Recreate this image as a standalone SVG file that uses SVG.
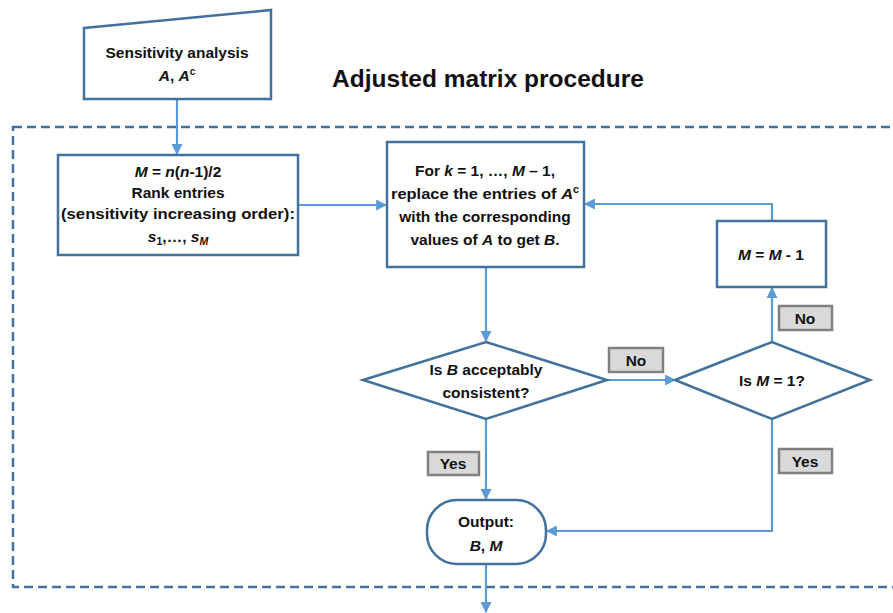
<svg xmlns="http://www.w3.org/2000/svg" width="893" height="613" viewBox="0 0 893 613">
<style>
.n{fill:#fff;stroke:#41719C;stroke-width:2.5}
.c{fill:none;stroke:#5B9BD5;stroke-width:2.2}
.t{font-family:"Liberation Sans",Arial,sans-serif;font-weight:bold;font-size:15.5px;fill:#111;text-anchor:middle}
.lb{fill:#D9D9D9;stroke:#808080;stroke-width:2.5}
.i{font-style:italic}
</style>
<defs>
<marker id="a" viewBox="0 0 10 10" refX="9" refY="5" markerWidth="5" markerHeight="5" orient="auto" markerUnits="strokeWidth">
<path d="M0,0L10,5L0,10z" fill="#5B9BD5"/>
</marker>
</defs>
<rect x="0" y="0" width="893" height="613" fill="#fff"/>
<rect x="13" y="127" width="900" height="460" fill="none" stroke="#41719C" stroke-width="2.5" stroke-dasharray="9,5"/>
<text x="488" y="87" class="t" style="font-size:24.5px">Adjusted matrix procedure</text>

<g id="connectors">
<path class="c" d="M177,99V154" marker-end="url(#a)"/>
<path class="c" d="M298,205H386" marker-end="url(#a)"/>
<path class="c" d="M772,221V204H585" marker-end="url(#a)"/>
<path class="c" d="M486,267V341" marker-end="url(#a)"/>
<path class="c" d="M607,380H675" marker-end="url(#a)"/>
<path class="c" d="M772,342V288" marker-end="url(#a)"/>
<path class="c" d="M486,419V499" marker-end="url(#a)"/>
<path class="c" d="M772,419V531H547" marker-end="url(#a)"/>
<path class="c" d="M486,564V612" marker-end="url(#a)"/>
</g>

<g id="start">
<path class="n" d="M84,28L271,10V99H84z"/>
<text class="t" x="177" y="58">Sensitivity analysis</text>
<text class="t" x="177" y="81"><tspan class="i">A</tspan>, <tspan class="i">A</tspan><tspan style="font-size:10px" dy="-6">c</tspan></text>
</g>

<g id="rank">
<rect class="n" x="58" y="155" width="240" height="100"/>
<text class="t" x="178" y="177"><tspan class="i">M</tspan> = <tspan class="i">n</tspan>(<tspan class="i">n</tspan>-1)/2</text>
<text class="t" x="178" y="198">Rank entries</text>
<text class="t" x="178" y="219" textLength="234" lengthAdjust="spacingAndGlyphs">(sensitivity increasing order):</text>
<text class="t" x="178" y="242"><tspan class="i">s</tspan><tspan style="font-size:10.5px" dy="3">1</tspan><tspan dy="-3">,…, </tspan><tspan class="i">s</tspan><tspan class="i" style="font-size:10.5px" dy="3">M</tspan></text>
</g>

<g id="replace">
<rect class="n" x="387" y="142" width="197" height="125"/>
<text class="t" x="485" y="176">For <tspan class="i">k</tspan> = 1, …, <tspan class="i">M</tspan> – 1,</text>
<text class="t" x="485" y="199" textLength="188" lengthAdjust="spacingAndGlyphs">replace the entries of <tspan class="i">A</tspan><tspan style="font-size:10px" dy="-6">c</tspan></text>
<text class="t" x="485" y="222">with the corresponding</text>
<text class="t" x="485" y="245">values of <tspan class="i">A</tspan> to get <tspan class="i">B</tspan>.</text>
</g>

<g id="decrement">
<rect class="n" x="717" y="221" width="109" height="66"/>
<text class="t" x="771" y="260"><tspan class="i">M</tspan> = <tspan class="i">M</tspan> - 1</text>
</g>

<g id="consistent">
<path class="n" d="M363,380L486,342L607,380L486,419z"/>
<text class="t" x="486" y="375">Is <tspan class="i">B</tspan> acceptably</text>
<text class="t" x="486" y="398">consistent?</text>
</g>

<g id="isone">
<path class="n" d="M675,380L772,342L870,380L772,419z"/>
<text class="t" x="772" y="386">Is <tspan class="i">M</tspan> = 1?</text>
</g>

<g id="output">
<rect class="n" x="427" y="500" width="119" height="64" rx="30" ry="30"/>
<text class="t" x="486" y="527">Output:</text>
<text class="t" x="486" y="551"><tspan class="i">B</tspan>, <tspan class="i">M</tspan></text>
</g>

<g id="labels">
<rect class="lb" x="609" y="348" width="54" height="24"/>
<text class="t" x="636" y="366">No</text>
<rect class="lb" x="779" y="306" width="53" height="24"/>
<text class="t" x="805" y="324">No</text>
<rect class="lb" x="428" y="452" width="51" height="23"/>
<text class="t" x="453" y="469">Yes</text>
<rect class="lb" x="779" y="449" width="53" height="24"/>
<text class="t" x="805" y="467">Yes</text>
</g>
</svg>
